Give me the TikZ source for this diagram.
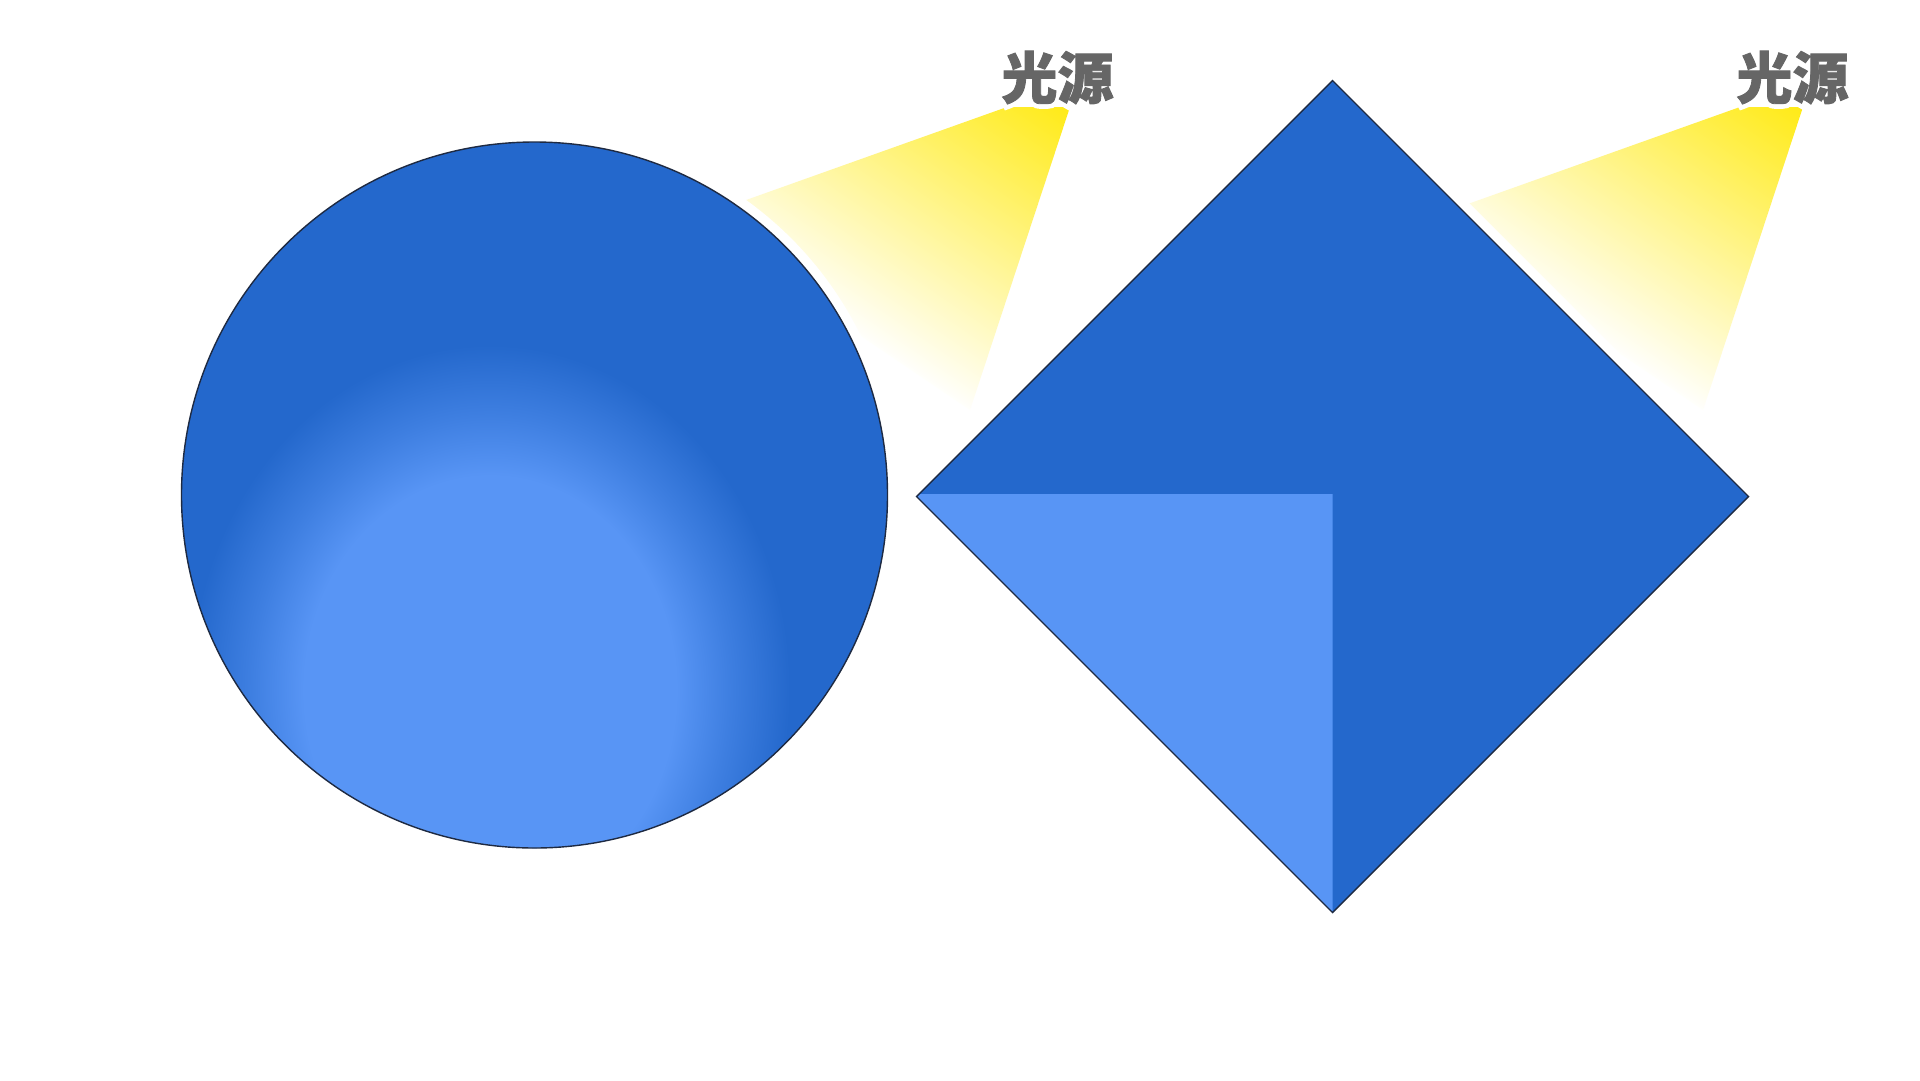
\documentclass[tikz,border=0pt]{standalone}
\usepackage{fontspec}
\IfFontExistsTF{Noto Sans CJK SC Black}{%
  \newfontfamily\cjk{Noto Sans CJK SC Black}[FakeBold=1.5]%
  \newfontfamily\cjkhalo{Noto Sans CJK SC Black}[FakeBold=18]}{%
  \IfFontExistsTF{Noto Sans CJK SC Bold}{%
    \newfontfamily\cjk{Noto Sans CJK SC Bold}[FakeBold=4]%
    \newfontfamily\cjkhalo{Noto Sans CJK SC Bold}[FakeBold=18]}{%
    \newfontfamily\cjk{Noto Sans CJK SC}[FakeBold=7]%
    \newfontfamily\cjkhalo{Noto Sans CJK SC}[FakeBold=20]}}
\definecolor{bluedark}{RGB}{36,104,204}
\definecolor{bluelight}{RGB}{88,149,245}
\definecolor{edgecol}{RGB}{30,42,66}
\definecolor{beamyellow}{RGB}{255,234,20}
\definecolor{labelgray}{RGB}{102,102,102}
\pgfdeclareradialshading{spot}{\pgfpoint{0bp}{0bp}}{color(0bp)=(bluelight); color(15.5bp)=(bluelight); color(20bp)=(bluelight!50!bluedark); color(25bp)=(bluedark); color(50bp)=(bluedark)}
\begin{document}
\begin{tikzpicture}[x=1pt,y=-1pt,
  lbl/.style={font=\cjk\fontsize{56}{56}\selectfont, text=labelgray, inner sep=0pt},
  lblhalo/.style={font=\cjkhalo\fontsize{56}{56}\selectfont, text=white, inner sep=0pt},
  halo/.style={draw=white, line width=20pt, line join=round},
  outline/.style={draw=edgecol, line width=1.4pt, line join=miter}]
\useasboundingbox[fill=white] (0,0) rectangle (1920,1080);
% light beams
\foreach \dx in {0,733} {
  \begin{scope}
    \clip (1007+\dx,107) -- (1070+\dx,107) -- (970+\dx,410) -- (690+\dx,220) -- cycle;
    \begin{scope}[transform canvas={shift={(970+\dx,410)}, rotate=56}]
      \shade[left color=white, right color=beamyellow] (-5,-600) rectangle (310,600);
    \end{scope}
  \end{scope}
}
% white halos
\draw[halo] (534.5,495) circle (353);
\draw[halo] (1332.5,80.5) -- (1748.5,496.5) -- (1332.5,912.5) -- (916.5,496.5) -- cycle;
% sphere
\fill[bluedark] (534.5,495) circle (353);
\begin{scope}
  \clip (534.5,495) circle (353);
  \shade[shading=spot] (490,690) ellipse [x radius=300, y radius=345];
\end{scope}
\draw[outline] (534.5,495) circle (353);
% diamond
\fill[bluedark] (1332.5,80.5) -- (1748.5,496.5) -- (1332.5,912.5) -- (916.5,496.5) -- cycle;
\fill[bluelight] (918.5,494) -- (1332.5,494) -- (1332.5,912.5) -- (916.5,496.5) -- cycle;
\draw[outline] (1332.5,80.5) -- (1748.5,496.5) -- (1332.5,912.5) -- (916.5,496.5) -- cycle;
% labels
\foreach \dx/\nm in {0/L,735/R} {
  \node[lblhalo] (halo\nm) at (1057.5+\dx,77.5) {光源};
  \node[lbl] (label\nm) at (1057.5+\dx,77.5) {光源};
}
\end{tikzpicture}
\end{document}
